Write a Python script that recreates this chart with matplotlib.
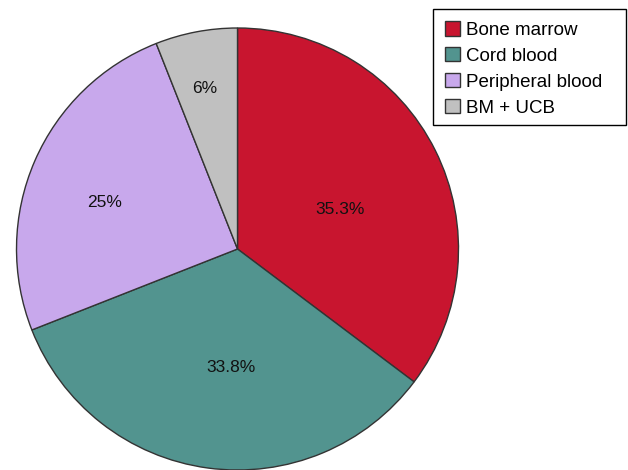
import matplotlib
matplotlib.use("Agg")
import matplotlib.pyplot as plt
from matplotlib.patches import Rectangle
import numpy as np

categories = ["Bone marrow", "Cord blood", "Peripheral blood", "BM + UCB"]
values = [35.3, 33.8, 25.0, 6.0]
labels_pct = ["35.3%", "33.8%", "25%", "6%"]
colors = ["#C8152F", "#52948F", "#C8A8EC", "#C0C0C0"]

plt.rcParams['font.family'] = ['Liberation Sans', 'DejaVu Sans']

W, H = 628, 470
fig = plt.figure(figsize=(W / 100, H / 100), dpi=100)
ax = fig.add_axes([0, 0, 1, 1])
cx, cy, r = 237.5, H - 249, 221

wedges, _ = ax.pie(values, colors=colors, startangle=90, counterclock=False,
                   center=(cx, cy), radius=r,
                   wedgeprops=dict(edgecolor="#333333", linewidth=1.0))

# label placement (radial fraction, angular offset in degrees)
dist = [0.5, 0.53, 0.64, 0.75]
dang = [-4.5, 4.3, 3.5, 0.6]
for w, lab, d, da in zip(wedges, labels_pct, dist, dang):
    ang = np.deg2rad((w.theta1 + w.theta2) / 2 + da)
    ax.text(cx + d * r * np.cos(ang), cy + d * r * np.sin(ang) - 1.5, lab,
            ha="center", va="center", fontsize=12.5, color="#111111")

ax.set_xlim(0, W)
ax.set_ylim(0, H)
ax.set_aspect("equal")
ax.axis("off")

# legend frame
ax.add_patch(Rectangle((433, H - 125), 193, 116, facecolor="white",
                       edgecolor="black", linewidth=1.0, zorder=5))
leg = ax.legend(wedges, categories, loc="upper left",
                bbox_to_anchor=(433 / W, (H - 9) / H),
                bbox_transform=fig.transFigure,
                fontsize=13.5, frameon=False,
                handlelength=0.8, handleheight=0.8,
                handletextpad=0.3, labelspacing=0.44, borderpad=0.65,
                borderaxespad=0)
leg.set_zorder(6)

fig.savefig("out.png", dpi=100)
